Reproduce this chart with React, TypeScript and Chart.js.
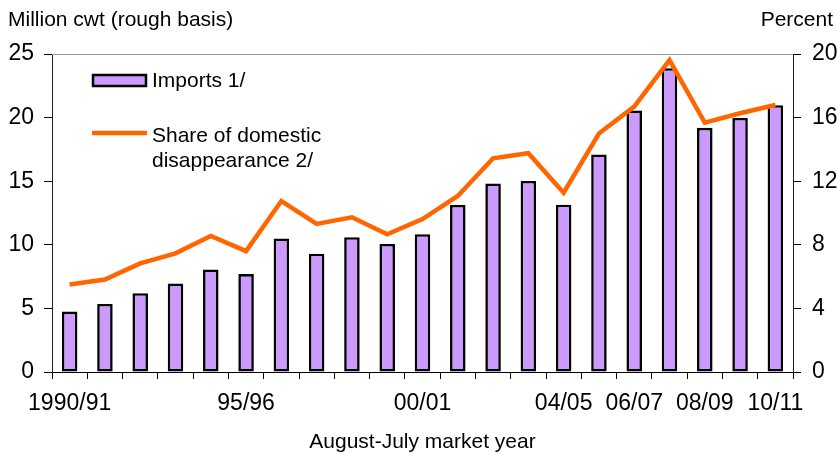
import React, { useEffect, useRef } from "react";
import { Chart, registerables } from "chart.js";

Chart.register(...registerables);

const years = [
  "1990/91", "91/92", "92/93", "93/94", "94/95", "95/96", "96/97", "97/98", "98/99", "99/00",
  "00/01", "01/02", "02/03", "03/04", "04/05", "05/06", "06/07", "07/08", "08/09", "09/10", "10/11",
];
const shownTickLabels = [
  "1990/91", "", "", "", "", "95/96", "", "", "", "",
  "00/01", "", "", "", "04/05", "", "06/07", "", "08/09", "", "10/11",
];
const importsMcwt = [
  4.75, 5.35, 6.2, 6.95, 8.05, 7.7, 10.5, 9.3, 10.6, 10.07,
  10.83, 13.13, 14.82, 15.02, 13.15, 17.1, 20.55, 23.88, 19.2, 19.97, 20.97,
];
const sharePercent = [
  5.5, 5.82, 6.83, 7.46, 8.55, 7.6, 10.75, 9.31, 9.73, 8.66,
  9.62, 11.07, 13.44, 13.76, 11.28, 15.0, 16.69, 19.62, 15.68, 16.27, 16.79,
];

const leftTitle = "Million cwt (rough basis)";
const rightTitle = "Percent";
const xTitle = "August-July market year";
const legendBar = "Imports 1/";
const legendLine = ["Share of domestic", "disappearance 2/"];

const FONT = "'Liberation Sans', Arial, Helvetica, sans-serif";
const PURPLE = "#CC99FF";
const ORANGE = "#FF6600";

const overlayPlugin = {
  id: "overlay",
  beforeDatasetsDraw(chart: any) {
    const { ctx, chartArea } = chart;
    ctx.save();
    ctx.strokeStyle = "#999999";
    ctx.lineWidth = 1;
    ctx.beginPath();
    ctx.moveTo(chartArea.left, chartArea.top + 0.5);
    ctx.lineTo(chartArea.right, chartArea.top + 0.5);
    ctx.stroke();
    ctx.restore();
  },
  afterDraw(chart: any) {
    const { ctx } = chart;
    ctx.save();
    ctx.fillStyle = "#000";
    ctx.font = `21px ${FONT}`;
    ctx.textBaseline = "alphabetic";
    ctx.textAlign = "left";
    ctx.fillText(leftTitle, 8, 26);
    ctx.textAlign = "right";
    ctx.fillText(rightTitle, 833, 26);

    // legend
    ctx.textAlign = "left";
    ctx.fillStyle = PURPLE;
    ctx.fillRect(93, 75, 53, 11);
    ctx.strokeStyle = "#000";
    ctx.lineWidth = 2.5;
    ctx.strokeRect(93, 75, 53, 11);
    ctx.fillStyle = "#000";
    ctx.fillText(legendBar, 152, 87);

    ctx.strokeStyle = ORANGE;
    ctx.lineWidth = 4.5;
    ctx.beginPath();
    ctx.moveTo(92, 133);
    ctx.lineTo(147, 133);
    ctx.stroke();
    ctx.fillStyle = "#000";
    ctx.fillText(legendLine[0], 152, 142);
    ctx.fillText(legendLine[1], 152, 167);
    ctx.restore();
  },
};

export default function App() {
  const canvasRef = useRef<HTMLCanvasElement | null>(null);

  useEffect(() => {
    const canvas = canvasRef.current;
    if (!canvas) return;
    const chart = new Chart(canvas, {
      type: "bar",
      data: {
        labels: years,
        datasets: [
          {
            type: "line",
            label: "Share of domestic disappearance 2/",
            data: sharePercent,
            yAxisID: "y1",
            borderColor: ORANGE,
            backgroundColor: ORANGE,
            borderWidth: 4.5,
            pointRadius: 0,
            tension: 0,
            order: 1,
          } as any,
          {
            type: "bar",
            label: "Imports 1/",
            data: importsMcwt,
            yAxisID: "y",
            backgroundColor: PURPLE,
            borderColor: "#000",
            borderWidth: 2.6,
            borderSkipped: false,
            categoryPercentage: 1,
            barPercentage: 0.44,
            order: 2,
          } as any,
        ],
      },
      options: {
        responsive: false,
        animation: false,
        devicePixelRatio: 1,
        layout: { padding: { top: 54, left: 0, right: 0, bottom: 0 } },
        plugins: {
          legend: { display: false },
          tooltip: { enabled: false },
          title: { display: false },
        },
        scales: {
          x: {
            type: "category",
            offset: true,
            grid: {
              display: true,
              offset: true,
              drawOnChartArea: false,
              drawTicks: true,
              tickLength: 7,
              color: "#000",
            },
            border: { display: true, color: "#000", width: 1 },
            ticks: {
              autoSkip: false,
              maxRotation: 0,
              minRotation: 0,
              padding: 11,
              color: "#000",
              font: { family: FONT, size: 23 },
              callback: (_v: any, i: number) => shownTickLabels[i],
            },
            title: {
              display: true,
              text: xTitle,
              color: "#000",
              font: { family: FONT, size: 21 },
              padding: { top: 0, bottom: -1 },
            },
            afterFit: (scale: any) => {
              scale.height = 82;
            },
          },
          y: {
            type: "linear",
            position: "left",
            min: 0,
            max: 25,
            grid: {
              display: true,
              drawOnChartArea: false,
              drawTicks: true,
              tickLength: 8,
              color: "#000",
            },
            border: { display: true, color: "#222", width: 1 },
            ticks: {
              stepSize: 5,
              padding: 10,
              color: "#000",
              font: { family: FONT, size: 23 },
            },
            afterFit: (scale: any) => {
              scale.width = 52;
            },
          },
          y1: {
            type: "linear",
            position: "right",
            min: 0,
            max: 20,
            grid: {
              display: true,
              drawOnChartArea: false,
              drawTicks: true,
              tickLength: 8,
              color: "#000",
            },
            border: { display: true, color: "#222", width: 1 },
            ticks: {
              stepSize: 4,
              padding: 11,
              color: "#000",
              font: { family: FONT, size: 23 },
            },
            afterFit: (scale: any) => {
              scale.width = 57;
            },
          },
        },
      },
      plugins: [overlayPlugin],
    });
    return () => {
      chart.destroy();
    };
  }, []);

  return (
    <div
      style={{
        position: "absolute",
        left: 0,
        top: 0,
        width: 837,
        height: 454,
        overflow: "hidden",
        background: "#fff",
      }}
    >
      <canvas ref={canvasRef} width={850} height={454} style={{ display: "block" }} />
    </div>
  );
}
